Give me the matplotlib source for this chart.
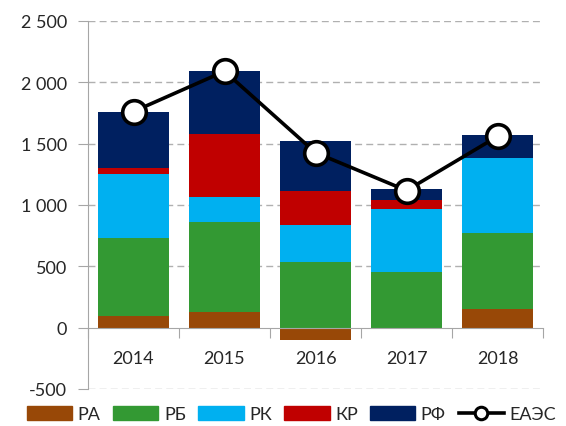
import numpy as np
import matplotlib.pyplot as plt
from matplotlib.lines import Line2D
from matplotlib.patches import Patch
from matplotlib.ticker import FuncFormatter

plt.rcParams['font.family'] = ['Lato', 'DejaVu Sans']
plt.rcParams['axes.unicode_minus'] = False

years = ["2014", "2015", "2016", "2017", "2018"]
ra = [98, 128, -98, -15, 155]
rb = [629, 735, 537, 452, 615]
rk = [525, 202, 299, 512, 611]
kr = [47, 517, 281, 74, -15]
rf = [463, 508, 408, 95, 193]
eaes = [1762, 2090, 1427, 1118, 1559]

series = [("РА", ra, "#984807"), ("РБ", rb, "#339933"), ("РК", rk, "#00B0F0"),
          ("КР", kr, "#C00000"), ("РФ", rf, "#002060")]

fig = plt.figure(figsize=(5.66, 4.27), dpi=100)
ax = fig.add_axes([0.1555, 0.0867, 0.8039, 0.8618])

x = np.arange(len(years))
pos = np.zeros(len(years))
neg = np.zeros(len(years))
for name, vals, color in series:
    vals = np.array(vals, dtype=float)
    bottom = np.where(vals >= 0, pos, neg)
    ax.bar(x, vals, width=0.79, bottom=bottom, color=color, zorder=2)
    pos = pos + np.where(vals >= 0, vals, 0)
    neg = neg + np.where(vals < 0, vals, 0)

ax.plot(x, eaes, color="black", lw=2.6, marker="o", ms=17, mfc="white",
        mec="black", mew=2.6, zorder=4)

ax.set_xlim(-0.5, len(years) - 0.5)
ax.set_ylim(-500, 2500)
ax.set_yticks(np.arange(-500, 2501, 500))
ax.yaxis.set_major_formatter(FuncFormatter(lambda v, p: f"{int(v):,}".replace(",", " ")))
for v in np.arange(-500, 2501, 500):
    if v != 0:
        ax.axhline(v, color="#B0B0B0", lw=1, ls=(0, (5, 3)), zorder=1)

ax.set_xticks(np.arange(-0.5, len(years), 1))
ax.set_xticklabels([])
ax.set_xticks(x, minor=True)
ax.set_xticklabels(years, minor=True)
ax.tick_params(axis="x", which="major", length=7, color="#A6A6A6", direction="out")
ax.tick_params(axis="x", which="minor", length=0, pad=16, labelsize=13, labelcolor="#262626")
ax.tick_params(axis="y", length=7, color="#A6A6A6", pad=8, labelsize=13, labelcolor="#262626")

for s in ("top", "right"):
    ax.spines[s].set_visible(False)
ax.spines["bottom"].set_position(("data", 0))
ax.spines["bottom"].set_color("#A6A6A6")
ax.spines["left"].set_color("#A6A6A6")

handles = [Patch(color=c, label=n) for n, _, c in series]
handles.append(Line2D([], [], color="black", lw=2.6, marker="o", ms=9, mfc="white",
                      mec="black", mew=2.2, label="ЕАЭС"))
fig.legend(handles=handles, loc="center", bbox_to_anchor=(0.515, 0.028), ncol=6,
           frameon=False, fontsize=13, handlelength=2.5, handleheight=0.8,
           handletextpad=0.3, columnspacing=0.7, labelcolor="#262626")

fig.savefig("out.png", dpi=100)
